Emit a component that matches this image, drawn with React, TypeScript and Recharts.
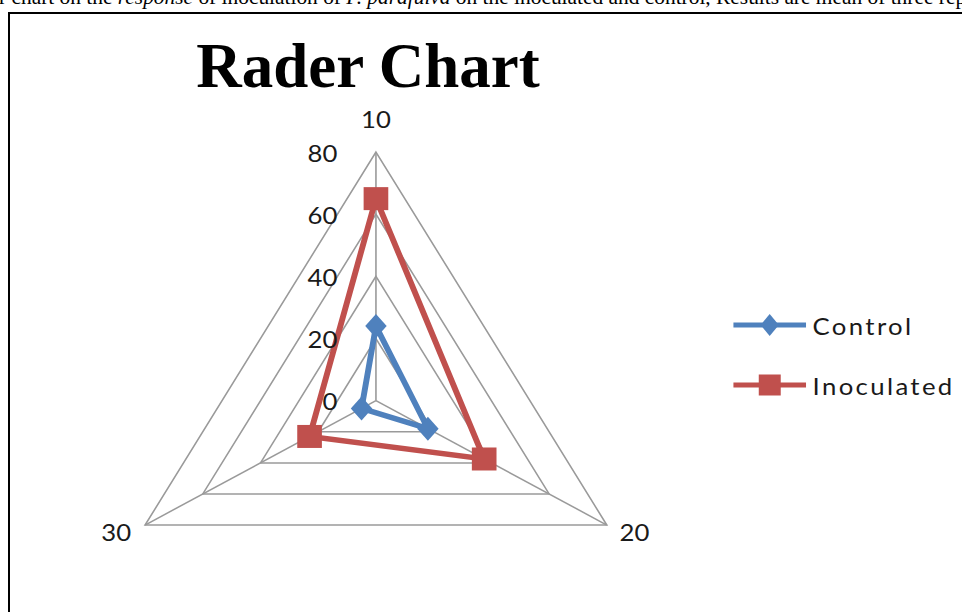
import React from 'react';
import { RadarChart, Radar, PolarGrid, PolarAngleAxis, PolarRadiusAxis, Legend } from 'recharts';

// axis categories and series values
const axes = ['10', '20', '30'];
const control = [24, 18, 5];
const inoculated = [65, 37.5, 23];
const radiusTicks = [0, 20, 40, 60, 80];

const data = axes.map((a, i) => ({ axis: a, control: control[i], inoculated: inoculated[i] }));

const BLUE = '#4f81bd';
const RED = '#c0504d';
const STRETCH = 1.072; // source image is slightly wider than tall

const labelFont = { fontFamily: 'Lato, "Open Sans", sans-serif', fontSize: 24, fill: '#1a1a1a' };

const Diamond = (props: any) => {
  const { cx, cy, key } = props;
  return <path key={key} d={`M${cx},${cy - 12} L${cx + 10},${cy} L${cx},${cy + 12} L${cx - 10},${cy} Z`} fill={BLUE} />;
};

const Square = (props: any) => {
  const { cx, cy, key } = props;
  return <rect key={key} x={cx - 11.5} y={cy - 11.5} width={23} height={23} fill={RED} />;
};

const RadiusTick = (props: any) => {
  const { x, y, payload } = props;
  return (
    <text x={x - 36} y={y} textAnchor="end" dominantBaseline="central" {...labelFont}>
      {payload.value}
    </text>
  );
};

const AngleTick = (props: any) => {
  const { x, y, payload } = props;
  const c = Math.cos((payload.coordinate * Math.PI) / 180);
  let anchor = 'middle';
  let tx = x;
  let ty = y - 26;
  if (c > 0.1) { anchor = 'start'; tx = x + 5; ty = y + 2; }
  else if (c < -0.1) { anchor = 'end'; tx = x - 6; ty = y + 2; }
  return (
    <text x={tx} y={ty} textAnchor={anchor} dominantBaseline="central" {...labelFont}>
      {payload.value}
    </text>
  );
};

const LegendContent = (props: any) => {
  const { payload } = props;
  return (
    <div>
      {(payload || []).map((entry: any) => (
        <div key={entry.value} style={{ height: 60, display: 'flex', alignItems: 'center' }}>
          <svg width={68} height={24}>
            <line x1={0} y1={12} x2={68} y2={12} stroke={entry.color} strokeWidth={5} />
            {entry.dataKey === 'control'
              ? <path d="M34,1 L42.5,12 L34,23 L25.5,12 Z" fill={BLUE} />
              : <rect x={23.8} y={1.5} width={20.5} height={21} fill={RED} />}
          </svg>
          <span style={{ marginLeft: 6, fontFamily: 'Lato, "Open Sans", sans-serif', fontSize: 24, color: '#1a1a1a', letterSpacing: 2.2 }}>
            {entry.value}
          </span>
        </div>
      ))}
    </div>
  );
};

export default function App() {
  return (
    <div style={{ position: 'absolute', left: 0, top: 0, width: 962, height: 612, overflow: 'hidden', background: '#fff' }}>
      <div style={{ position: 'absolute', left: -1, top: -14, whiteSpace: 'nowrap', fontFamily: '"Liberation Serif", serif', fontSize: 21.4, lineHeight: '22px', color: '#000' }}>
        r chart on the <i>response</i> of inoculation of <i>P. parafulva</i> on the inoculated and control, Results are mean of three replicates
      </div>
      <div style={{ position: 'absolute', left: 8, top: 12, width: 1000, height: 700, border: '2px solid #000' }} />
      <div style={{ position: 'absolute', left: 0, top: 35, width: 736, textAlign: 'center', fontFamily: '"Liberation Serif", serif', fontWeight: 'bold', fontSize: 63, lineHeight: '63px', color: '#000' }}>
        Rader Chart
      </div>
      <div style={{ position: 'absolute', left: 0, top: 0, transform: `scaleX(${STRETCH})`, transformOrigin: '0 0' }}>
        <RadarChart width={897} height={612} cx={350.7} cy={400.7} outerRadius={248.7} data={data} margin={{ top: 0, right: 0, bottom: 0, left: 0 }}>
          <PolarGrid gridType="polygon" stroke="#9a9a9a" strokeWidth={1.5} />
          <PolarAngleAxis dataKey="axis" tick={AngleTick} tickLine={false} axisLine={false} />
          <PolarRadiusAxis angle={90} domain={[0, 80]} ticks={radiusTicks as any} tickCount={5} tick={RadiusTick} axisLine={false} tickLine={false} />
          <Radar name="Control" dataKey="control" stroke={BLUE} strokeWidth={5.5} fill="none" fillOpacity={0} dot={Diamond} isAnimationActive={false} />
          <Radar name="Inoculated" dataKey="inoculated" stroke={RED} strokeWidth={5.5} fill="none" fillOpacity={0} dot={Square} isAnimationActive={false} />
          <Legend content={LegendContent} wrapperStyle={{ position: 'absolute', left: 684, top: 295, width: 220 }} />
        </RadarChart>
      </div>
    </div>
  );
}
